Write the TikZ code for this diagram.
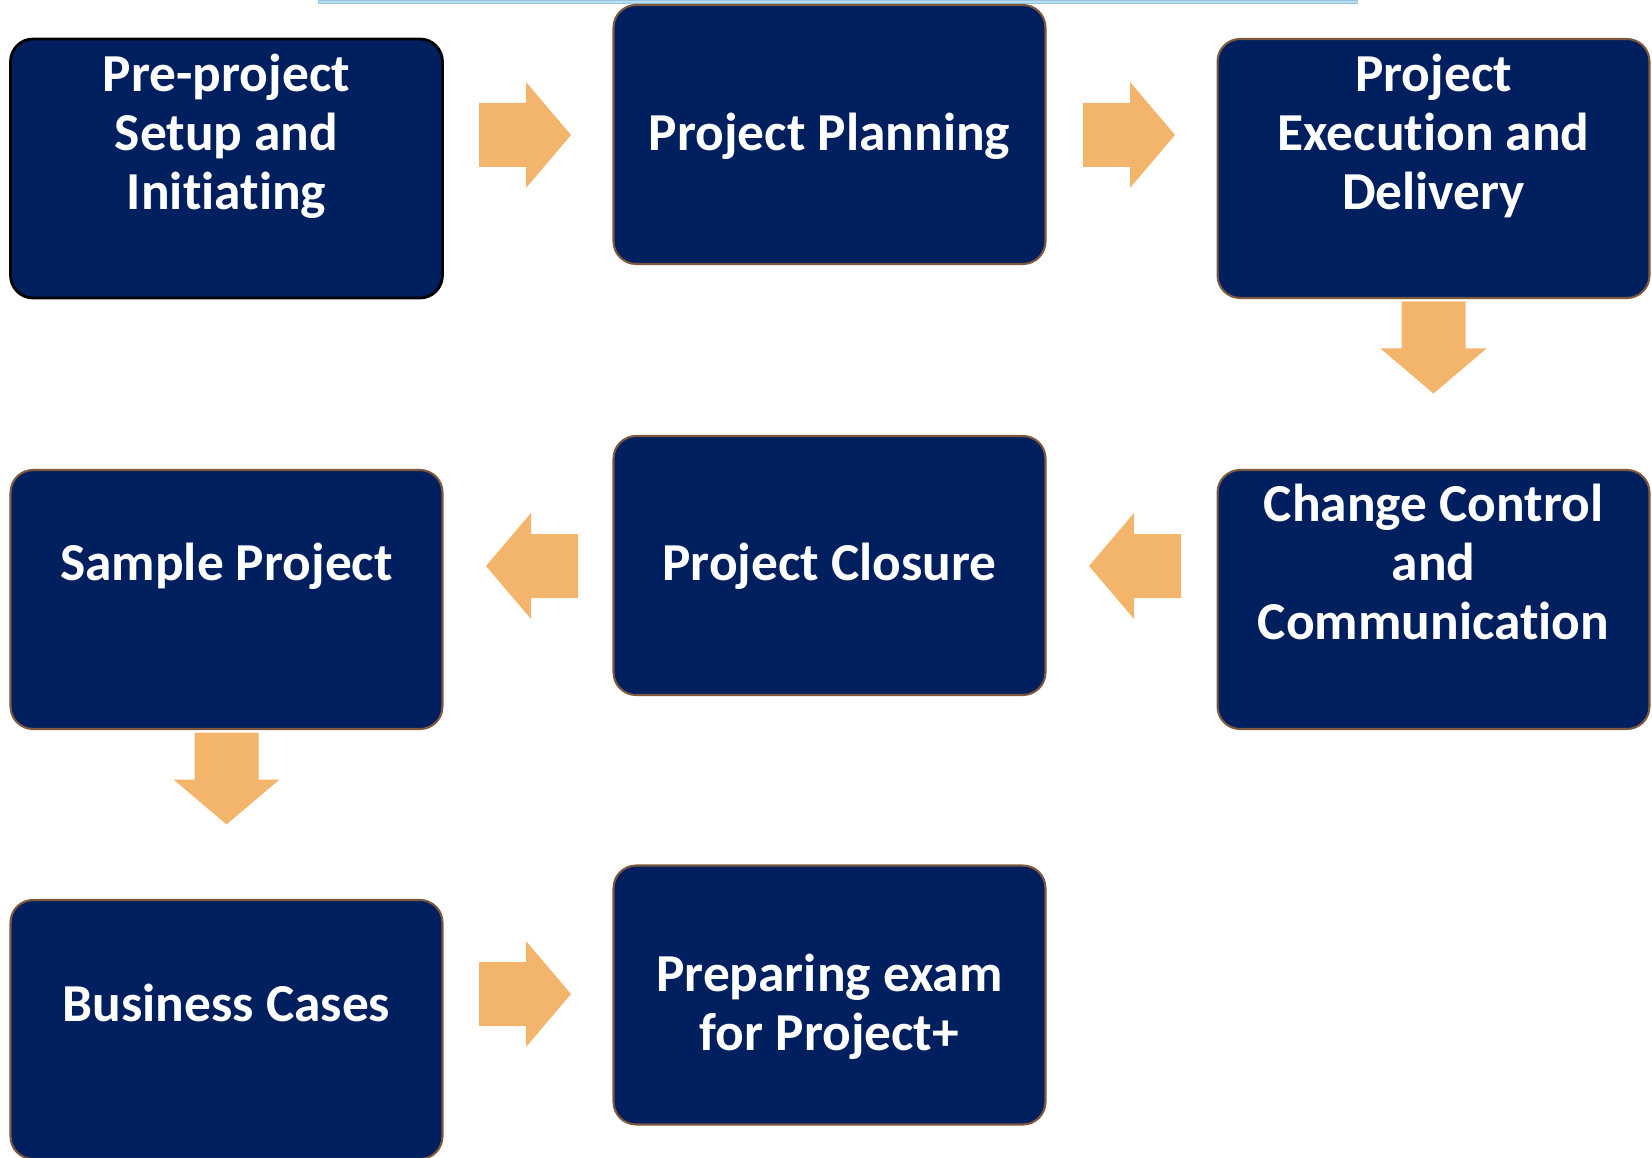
\documentclass[tikz,border=0pt]{standalone}
\usepackage{fontspec}
\setmainfont[Ligatures={NoCommon},RawFeature={-liga;-dlig}]{Carlito}

\definecolor{navy}{RGB}{0,31,95}
\definecolor{brownedge}{RGB}{125,88,60}
\definecolor{arrowfill}{RGB}{243,181,107}
\definecolor{topline}{RGB}{184,222,242}
\definecolor{toplineedge}{RGB}{150,196,222}

\tikzset{
  stagebox/.style={rectangle,rounded corners=0.45cm,fill=navy,draw=brownedge,line width=1.2pt,
    minimum width=8.64cm,minimum height=5.18cm,inner sep=0pt},
  stagetext/.style={text=white,font=\bfseries\fontsize{30.4}{33.5}\selectfont,align=center,inner sep=0pt},
  blockarrow/.pic={
    \fill[arrowfill] (-46,-32) -- (1,-32) -- (1,-53) -- (46,0) -- (1,53) -- (1,32) -- (-46,32) -- cycle;
  }
}

\begin{document}
\begin{tikzpicture}[x=0.02cm,y=-0.02cm]
    \useasboundingbox (0,0) rectangle (1652,1158);

    \filldraw[fill=topline,draw=toplineedge,line width=0.4pt] (318,0) rectangle (1357,3);

    \node[stagebox,draw=black,line width=1.6pt] (preproj) at (226.5,168.5) {};
    \node[stagebox] (planning) at (829.5,134.5) {};
    \node[stagebox] (execution) at (1433.5,168.5) {};
    \node[stagebox] (sample) at (226.5,599.5) {};
    \node[stagebox] (closure) at (829.5,565.5) {};
    \node[stagebox] (change) at (1433.5,599.5) {};
    \node[stagebox] (business) at (226.5,1029.5) {};
    \node[stagebox] (exam) at (829.5,995) {};

    \node[stagetext] (preproj-t) at (226.5,136) {Pre-project\\Setup and\\Initiating};
    \node[stagetext] (planning-t) at (829.5,136) {Project Planning};
    \node[stagetext] (execution-t) at (1433.5,136) {Project\\Execution and\\Delivery};
    \node[stagetext] (sample-t) at (226.5,566) {Sample Project};
    \node[stagetext] (closure-t) at (829.5,566) {Project Closure};
    \node[stagetext] (change-t) at (1433.5,562) {Change Control\\and\\Communication};
    \node[stagetext] (business-t) at (226.5,1003) {Business Cases};
    \node[stagetext] (exam-t) at (829.5,1007) {Preparing exam\\for Project+};

    \pic (preproj-planning) at (525,135) {blockarrow};
    \pic (planning-execution) at (1129,135) {blockarrow};
    \pic[rotate=-90] (execution-change) at (1433.5,347.5) {blockarrow};
    \pic[rotate=180] (change-closure) at (1135,566) {blockarrow};
    \pic[rotate=180] (closure-sample) at (532,566) {blockarrow};
    \pic[rotate=-90] (sample-business) at (226.5,778.5) {blockarrow};
    \pic (business-exam) at (525,994) {blockarrow};
\end{tikzpicture}
\end{document}
